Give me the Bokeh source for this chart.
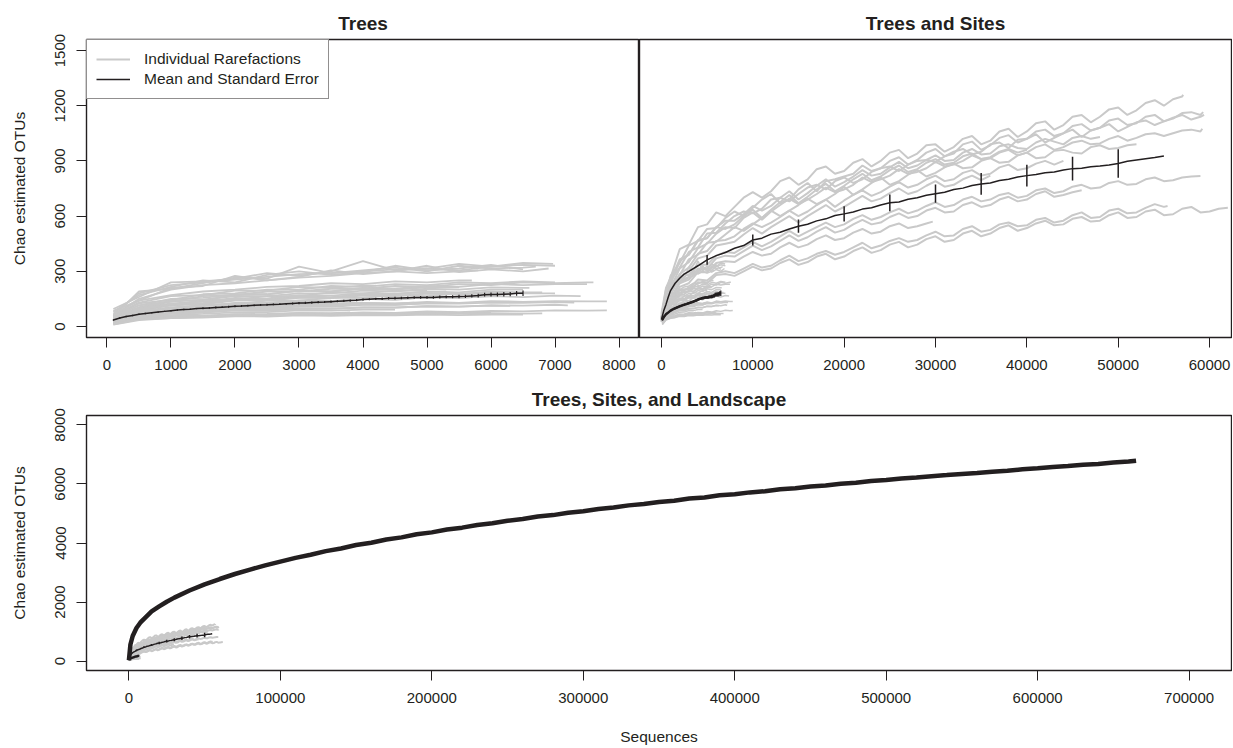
from bokeh.plotting import figure
from bokeh.layouts import column, row
from bokeh.models import Range1d, FixedTicker, Legend, LegendItem, BasicTickFormatter
from bokeh.embed import file_html
from bokeh.resources import INLINE

FONT = "Liberation Sans"
INK = "#231f20"
GRAY = "#c9c9c9"

# ---------------- data: individual trees ----------------
TREE_GRID = [100] + list(range(500, 8000, 500))
TREE_END = [7000, 6970, 6700, 6500, 5800, 6900,
            7600, 7500, 7810, 7810, 6500, 6200, 6000, 5500, 5000, 4500,
            7000, 6800, 7200, 5200, 6600, 4800, 3800, 6500, 4200, 3500,
            6000, 5500, 3000, 7000,
            7400, 6300, 5700, 4000, 6800, 5300, 7300, 2500]
TREE_VALS = [
    [70, 180, 225, 240, 255, 270, 285, 290, 300, 310, 315, 305, 325, 335, 330],
    [95, 160, 240, 245, 260, 290, 275, 300, 355, 305, 315, 340, 325, 345, 340],
    [55, 190, 205, 235, 265, 260, 325, 290, 305, 320, 300, 330, 315, 320, 325],
    [80, 170, 215, 250, 240, 280, 300, 280, 295, 330, 305, 315, 335, 310],
    [60, 150, 200, 225, 235, 250, 265, 275, 290, 300, 290, 300, 305],
    [85, 140, 210, 220, 275, 250, 270, 305, 285, 300, 330, 295, 310, 300, 315],
    [50, 115, 135, 165, 170, 190, 190, 205, 205, 220, 215, 230, 225, 240, 235, 240, 240],
    [40, 100, 135, 145, 170, 175, 195, 190, 210, 205, 220, 215, 230, 225, 230, 230],
    [30, 70, 95, 98, 108, 106, 118, 116, 128, 124, 133, 128, 138, 134, 138, 136, 136],
    [20, 42, 55, 58, 66, 64, 72, 70, 76, 74, 82, 78, 85, 82, 88, 86, 87],
    [45, 95, 120, 125, 145, 145, 165, 160, 175, 175, 190, 185, 200, 200],
    [35, 85, 95, 120, 120, 140, 140, 155, 155, 170, 165, 180, 175, 180],
    [30, 75, 100, 100, 120, 120, 135, 135, 150, 145, 160, 155, 165],
    [25, 60, 78, 82, 95, 97, 108, 107, 118, 117, 127, 128],
    [40, 95, 115, 145, 145, 165, 165, 185, 180, 195, 195],
    [20, 50, 62, 68, 77, 78, 87, 86, 92, 92],
    [55, 125, 145, 175, 180, 200, 200, 220, 215, 230, 225, 240, 235, 245, 240],
    [35, 85, 115, 120, 140, 140, 155, 155, 170, 165, 180, 175, 190, 185, 185],
    [25, 55, 72, 78, 88, 87, 97, 96, 103, 103, 110, 108, 115, 113, 118, 115],
    [15, 40, 52, 53, 62, 60, 67, 65, 72, 70, 75, 75],
    [45, 105, 140, 145, 165, 165, 180, 180, 195, 190, 205, 200, 212, 210, 210],
    [30, 65, 88, 92, 108, 107, 118, 117, 128, 125, 130],
    [20, 45, 57, 58, 67, 68, 74, 73, 76],
    [10, 35, 45, 48, 55, 54, 60, 58, 62, 61, 64, 62, 65, 64],
    [60, 130, 165, 170, 195, 195, 215, 210, 222, 222],
    [35, 80, 105, 110, 128, 128, 140, 140],
    [15, 40, 50, 53, 60, 60, 68, 66, 72, 70, 76, 74, 78],
    [50, 115, 150, 155, 175, 175, 195, 190, 205, 200, 212, 212],
    [25, 60, 78, 82, 92, 93, 98],
    [40, 90, 120, 125, 145, 145, 158, 155, 168, 165, 178, 175, 182, 180, 180],
    [30, 80, 100, 112, 125, 128, 140, 138, 150, 148, 158, 155, 165, 160, 168, 165],
    [20, 55, 68, 75, 88, 86, 95, 97, 104, 102, 110, 108, 114, 112],
    [65, 140, 170, 190, 200, 215, 220, 235, 230, 245, 240, 250, 250],
    [30, 70, 90, 100, 112, 115, 125, 125, 130],
    [12, 38, 46, 52, 58, 60, 63, 62, 66, 65, 68, 70, 72, 70, 71],
    [45, 100, 125, 135, 155, 152, 170, 168, 180, 178, 188, 190],
    [20, 65, 85, 90, 102, 100, 110, 112, 120, 118, 125, 124, 130, 128, 132, 130],
    [40, 95, 120, 135, 145, 150],
]
TREE_MEAN_X = list(range(100, 6600, 100))
TREE_MEAN = [35, 46, 54, 60, 66, 70, 74, 78, 82, 86,
             89, 92, 94, 97, 99, 101, 103, 105, 107, 110,
             111, 113, 115, 117, 118, 120, 121, 123, 125, 127,
             128, 130, 132, 133, 135, 137, 139, 141, 143, 146,
             148, 150, 151, 153, 154, 155, 156, 157, 158, 158,
             158, 160, 161, 162, 163, 164, 166, 168, 173, 174,
             174, 175, 176, 180, 180]
TREE_SE = [4, 4, 4, 4, 4, 4, 4, 4, 4, 4,
           4, 4, 4, 4, 5, 5, 5, 5, 5, 5,
           5, 5, 5, 5, 5, 5, 5, 5, 5, 6,
           6, 6, 6, 6, 6, 6, 6, 6, 6, 6,
           6, 6, 7, 7, 7, 7, 7, 7, 7, 8,
           8, 8, 8, 8, 9, 9, 9, 10, 10, 11,
           11, 12, 12, 13, 15]

# ---------------- data: sites ----------------
SITE_GRID = [0, 500, 1000, 2000, 3000, 4000, 5000] + list(range(6000, 64000, 2000))
SITE_END = [57100, 59300, 59400, 59200, 48000, 52000, 44000, 36000,
            59000, 46000, 29700, 62000, 55400, 40000]
SITE_VALS = [
    [70, 210, 265, 420, 445, 540, 555, 620, 650, 730, 735, 810, 800, 870, 845, 910, 900, 960, 940, 990,
     975, 1035, 1010, 1075, 1060, 1115, 1095, 1150, 1140, 1190, 1175, 1230, 1235, 1260],
    [60, 175, 275, 345, 440, 465, 530, 535, 625, 645, 720, 690, 780, 790, 815, 875, 860, 920, 905, 965,
     940, 1005, 985, 1040, 1020, 1070, 1050, 1100, 1080, 1130, 1105, 1150, 1130, 1165, 1165],
    [50, 150, 250, 320, 405, 430, 505, 510, 600, 615, 690, 680, 755, 745, 810, 800, 860, 845, 900, 895,
     950, 935, 990, 970, 1020, 1000, 1050, 1030, 1080, 1060, 1110, 1095, 1135, 1125, 1150],
    [45, 160, 210, 315, 350, 425, 450, 505, 535, 620, 625, 695, 690, 755, 745, 810, 800, 855, 840, 895,
     880, 930, 915, 960, 945, 990, 975, 1010, 995, 1035, 1025, 1050, 1050, 1070, 1075],
    [45, 180, 230, 355, 390, 470, 480, 540, 575, 655, 655, 735, 725, 800, 785, 850, 830, 895, 875, 930,
     905, 965, 940, 990, 965, 1020, 990, 1035, 1030],
    [40, 135, 220, 280, 365, 390, 455, 460, 540, 555, 630, 630, 695, 690, 760, 745, 810, 790, 850, 835,
     885, 865, 915, 895, 945, 920, 960, 940, 985, 970, 990],
    [40, 140, 180, 285, 320, 395, 410, 465, 490, 560, 565, 630, 625, 690, 685, 740, 730, 785, 770, 820,
     800, 850, 830, 880, 860, 900, 900],
    [35, 125, 170, 270, 300, 370, 385, 440, 460, 535, 540, 600, 600, 660, 650, 710, 695, 750, 735, 790,
     770, 820, 820],
    [35, 115, 150, 245, 270, 335, 335, 385, 400, 460, 460, 520, 515, 565, 555, 605, 595, 640, 630, 675,
     660, 705, 690, 725, 710, 750, 735, 770, 755, 790, 775, 810, 795, 815, 818],
    [30, 105, 140, 235, 255, 315, 315, 370, 380, 440, 435, 495, 485, 540, 525, 580, 565, 615, 600, 645,
     625, 675, 660, 705, 690, 735, 715, 740],
    [30, 100, 130, 215, 235, 295, 295, 345, 350, 405, 395, 455, 445, 495, 480, 530, 515, 560, 545, 570],
    [25, 85, 110, 185, 190, 240, 235, 280, 275, 325, 315, 365, 350, 395, 380, 430, 415, 460, 445, 490,
     470, 520, 505, 550, 535, 575, 555, 595, 575, 620, 595, 635, 610, 650, 625, 645],
    [25, 95, 125, 200, 205, 255, 250, 290, 290, 340, 330, 385, 370, 410, 405, 455, 440, 480, 470, 515,
     495, 545, 525, 565, 550, 590, 575, 620, 595, 640, 620, 665, 655],
    [45, 200, 250, 365, 390, 465, 480, 540, 555, 635, 635, 715, 705, 775, 765, 830, 815, 875, 855, 910,
     890, 940, 920, 965, 960],
]
# readings at the odd thousands (7000, 9000, ...) of each site curve
SITE_ODD = [
    [600, 700, 700, 790, 770, 855, 830, 890, 870, 945, 915, 985, 950, 1020, 990, 1060, 1030, 1105, 1070,
     1140, 1110, 1180, 1150, 1215, 1200, 1250],
    [590, 600, 690, 670, 745, 735, 800, 830, 845, 900, 880, 945, 925, 990, 960, 1025, 1000, 1060, 1035,
     1090, 1065, 1120, 1095, 1140, 1115, 1160, 1150],
    [560, 625, 640, 700, 720, 770, 790, 780, 840, 870, 880, 905, 925, 965, 950, 1000, 1015, 1045, 1025,
     1070, 1065, 1100, 1085, 1120, 1115, 1150, 1140],
    [540, 590, 580, 660, 665, 720, 730, 770, 785, 820, 830, 860, 870, 900, 910, 945, 930, 975, 960,
     1000, 990, 1020, 1010, 1045, 1035, 1065, 1060],
    [575, 610, 630, 700, 690, 765, 760, 815, 820, 865, 860, 905, 900, 945, 935, 980, 970, 1000, 1005,
     1025, 1020],
    [500, 520, 590, 600, 660, 665, 720, 715, 780, 770, 825, 815, 865, 860, 900, 890, 930, 915, 955,
     945, 975, 965, 985],
    [470, 530, 540, 595, 600, 660, 650, 715, 710, 760, 755, 800, 790, 835, 820, 865, 850, 885, 880],
    [450, 500, 505, 570, 565, 630, 625, 680, 680, 725, 720, 765, 760, 800, 795],
    [405, 430, 435, 490, 490, 540, 540, 585, 580, 620, 615, 655, 650, 690, 680, 715, 700, 740, 725,
     760, 750, 780, 770, 800, 790, 810],
    [385, 410, 415, 465, 465, 515, 510, 555, 555, 595, 590, 630, 620, 660, 650, 690, 680, 720, 705, 730],
    [355, 380, 385, 430, 430, 475, 470, 510, 505, 545, 535, 560],
    [285, 300, 305, 345, 335, 380, 365, 410, 400, 445, 430, 475, 460, 505, 490, 535, 520, 560, 550,
     585, 570, 605, 590, 625, 605, 640, 620, 640],
    [300, 315, 320, 360, 355, 395, 390, 430, 425, 465, 460, 495, 490, 530, 515, 555, 545, 580, 565,
     605, 590, 630, 615, 645, 650],
    [530, 600, 590, 675, 670, 745, 735, 800, 795, 850, 840, 890, 880, 925, 910, 950, 945],
]
SITE_MEAN_X = [0, 250, 500, 750, 1000, 1500, 2000, 2500, 3000, 4000, 5000] + list(range(6000, 56000, 1000))
SITE_MEAN = [38, 85, 120, 160, 195, 235, 262, 285, 300, 330, 362,
             385, 402, 425, 440, 470, 480, 502, 512, 530, 545,
             556, 574, 585, 603, 612, 622, 638, 645, 660, 672,
             677, 692, 700, 713, 722, 730, 745, 752, 766, 775,
             780, 794, 800, 812, 820, 826, 836, 840, 850, 858,
             860, 868, 872, 878, 886, 898, 905, 912, 918, 927]
SITE_SE_X = [5000, 10000, 15000, 20000, 25000, 30000, 35000, 40000, 45000, 50000]
SITE_SE = [27, 30, 36, 41, 46, 50, 59, 59, 64, 77]

# ---------------- data: landscape ----------------
LAND_X = [0, 1000, 2500, 5000, 7500, 10000, 15000, 20000, 25000, 30000] + list(range(40000, 670000, 10000)) + [665000]
LAND_Y = [30, 560, 850, 1120, 1300, 1430, 1680, 1850, 2010, 2150,
          2390, 2600, 2780, 2950, 3100, 3240, 3370,
          3495, 3600, 3725, 3815, 3930, 4010, 4120, 4190, 4295, 4360,
          4455, 4520, 4610, 4670, 4755, 4810, 4895, 4945, 5025, 5075,
          5150, 5200, 5275, 5320, 5390, 5435, 5505, 5545, 5615, 5650,
          5715, 5755, 5820, 5855, 5915, 5950, 6010, 6045, 6100, 6135,
          6185, 6220, 6265, 6300, 6340, 6370, 6415, 6450, 6495, 6530,
          6575, 6605, 6650, 6680, 6725, 6760, 6790]


def build(grid, ends, vals):
    xs, ys = [], []
    for e, v in zip(ends, vals):
        pts = [g for g in grid if g < e]
        assert len(pts) + 1 == len(v), (e, len(pts), len(v))
        xs.append(pts + [e])
        ys.append(list(v))
    return xs, ys


def build_sites():
    xs, ys = build(SITE_GRID, SITE_END, SITE_VALS)
    out_x, out_y = [], []
    for e, x, y, odd in zip(SITE_END, xs, ys, SITE_ODD):
        ox = list(range(7000, e, 2000))
        assert len(ox) == len(odd), (e, len(ox), len(odd))
        pairs = sorted(list(zip(x, y)) + list(zip(ox, odd)))
        out_x.append([a for a, _ in pairs])
        out_y.append([b for _, b in pairs])
    return out_x, out_y


tree_xs, tree_ys = build(TREE_GRID, TREE_END, TREE_VALS)
site_xs, site_ys = build_sites()
assert len(TREE_MEAN) == len(TREE_MEAN_X) == len(TREE_SE)
assert len(SITE_MEAN) == len(SITE_MEAN_X), (len(SITE_MEAN), len(SITE_MEAN_X))
assert len(LAND_X) == len(LAND_Y), (len(LAND_X), len(LAND_Y))
site_mean_lookup = dict(zip(SITE_MEAN_X, SITE_MEAN))


def style(p, xticks, yticks=None, ylabel=None, xlabel=None):
    p.outline_line_color = INK
    p.outline_line_width = 1.4
    p.outline_line_alpha = 1
    p.xgrid.visible = False
    p.ygrid.visible = False
    p.background_fill_color = "white"
    p.border_fill_color = "white"
    axes = [p.xaxis[0]] + ([p.yaxis[0]] if yticks is not None else [])
    for ax in axes:
        ax.axis_line_color = None
        ax.major_tick_line_color = INK
        ax.major_tick_line_width = 1
        ax.major_tick_in = 0
        ax.major_tick_out = 10
        ax.minor_tick_line_color = None
        ax.major_label_text_font = FONT
        ax.major_label_text_font_size = "15px"
        ax.major_label_text_color = INK
        ax.major_label_standoff = 12
        ax.axis_label_text_font = FONT
        ax.axis_label_text_font_size = "15.5px"
        ax.axis_label_text_font_style = "normal"
        ax.axis_label_text_color = INK
        ax.formatter = BasicTickFormatter(use_scientific=False)
    p.xaxis.ticker = FixedTicker(ticks=xticks)
    if yticks is not None:
        p.yaxis.ticker = FixedTicker(ticks=yticks)
        p.yaxis.major_label_orientation = "vertical"
        p.yaxis.major_label_standoff = 11
        if ylabel:
            p.yaxis.axis_label = ylabel
            p.yaxis.axis_label_standoff = 25
    if xlabel:
        p.xaxis.axis_label = xlabel
        p.xaxis.axis_label_standoff = 22


def set_title(p, text):
    p.title.text = text
    p.title.align = "center"
    p.title.text_font = FONT
    p.title.text_font_size = "19px"
    p.title.text_font_style = "bold"
    p.title.text_color = INK
    p.title.standoff = 12


def draw_trees(p, mean_w=1.5, gray_w=1.5):
    g = p.multi_line(tree_xs, tree_ys, line_color=GRAY, line_width=gray_w)
    m = p.line(TREE_MEAN_X, TREE_MEAN, line_color=INK, line_width=mean_w)
    lo = [a - b for a, b in zip(TREE_MEAN, TREE_SE)]
    hi = [a + b for a, b in zip(TREE_MEAN, TREE_SE)]
    p.segment(TREE_MEAN_X, lo, TREE_MEAN_X, hi, line_color=INK, line_width=1.2)
    return g, m


def draw_site_gray(p):
    p.multi_line(site_xs, site_ys, line_color=GRAY, line_width=2.0)


def draw_site_mean(p):
    p.line(SITE_MEAN_X, SITE_MEAN, line_color=INK, line_width=1.5)
    cy = [site_mean_lookup[x] for x in SITE_SE_X]
    p.segment(SITE_SE_X, [c - s for c, s in zip(cy, SITE_SE)],
              SITE_SE_X, [c + s for c, s in zip(cy, SITE_SE)],
              line_color=INK, line_width=1.5)


# ---------------- panel 1: Trees ----------------
p1 = figure(width=639, height=380, output_backend="svg", toolbar_location=None,
            x_range=Range1d(-320, 8320), y_range=Range1d(-60, 1560),
            min_border_left=86, min_border_right=0, min_border_top=39, min_border_bottom=43)
style(p1, list(range(0, 8001, 1000)), list(range(0, 1501, 300)), ylabel="Chao estimated OTUs")
set_title(p1, "Trees")
g1, m1 = draw_trees(p1, gray_w=1.8)
legend = Legend(items=[LegendItem(label="Individual Rarefactions", renderers=[g1]),
                       LegendItem(label="Mean and Standard Error", renderers=[m1])],
                location="top_left", margin=0, padding=9, spacing=0,
                glyph_width=34, glyph_height=20, label_height=20, label_standoff=14,
                border_line_color=INK, border_line_width=1.5,
                label_text_font=FONT, label_text_font_size="15.5px", label_text_color=INK,
                background_fill_color="white", background_fill_alpha=1)
p1.add_layout(legend)

# ---------------- panel 2: Trees and Sites ----------------
p2 = figure(width=593, height=380, output_backend="svg", toolbar_location=None,
            x_range=Range1d(-2400, 62400), y_range=Range1d(-60, 1560), y_axis_location=None,
            min_border_left=0, min_border_right=1, min_border_top=39, min_border_bottom=43)
style(p2, list(range(0, 60001, 10000)))
set_title(p2, "Trees and Sites")
draw_site_gray(p2)
draw_trees(p2, mean_w=2.5)
draw_site_mean(p2)

# ---------------- panel 3: Trees, Sites, and Landscape ----------------
p3 = figure(width=1232, height=367, output_backend="svg", toolbar_location=None,
            x_range=Range1d(-28000, 728000), y_range=Range1d(-320, 8320),
            min_border_left=86, min_border_right=1, min_border_top=33, min_border_bottom=74)
style(p3, list(range(0, 700001, 100000)), list(range(0, 8001, 2000)),
      ylabel="Chao estimated OTUs", xlabel="Sequences")
set_title(p3, "Trees, Sites, and Landscape")
draw_site_gray(p3)
draw_trees(p3, mean_w=2.5)
draw_site_mean(p3)
p3.line(LAND_X, LAND_Y, line_color=INK, line_width=4.5)

layout = column(row(p1, p2), p3)
open("out.html", "w").write(file_html(layout, INLINE))
